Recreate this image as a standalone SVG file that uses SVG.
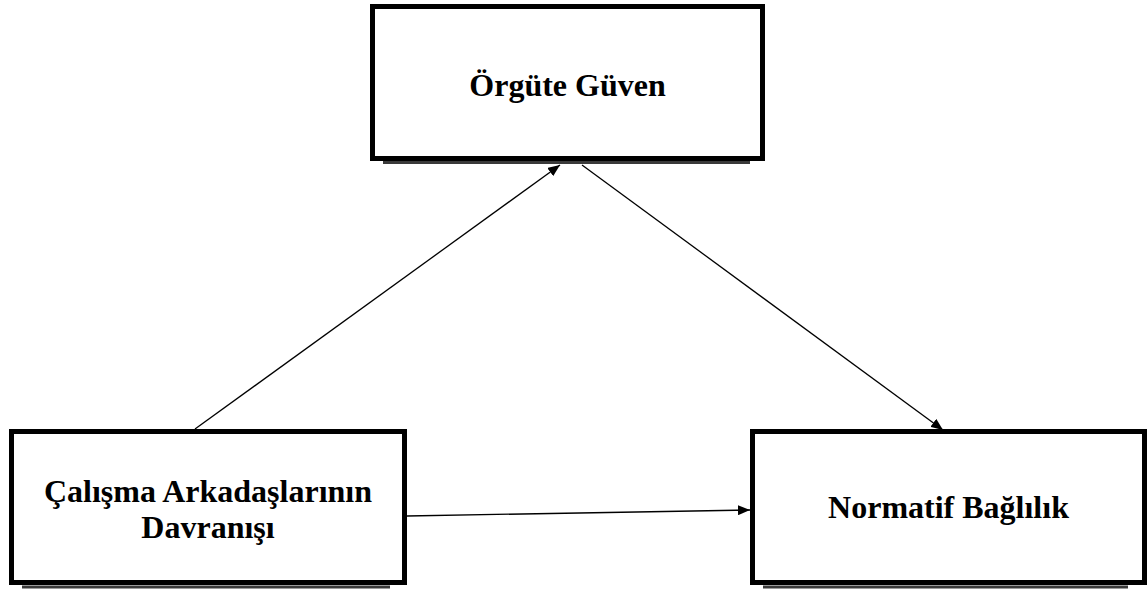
<svg xmlns="http://www.w3.org/2000/svg" width="1147" height="592" viewBox="0 0 1147 592">
  <style>
    .box { fill: #ffffff; stroke: #000000; stroke-width: 5; }
    .shadow { stroke: #3a3a3a; stroke-width: 3; fill: none; }
    .label { font-family: "Liberation Serif", "Times New Roman", serif; font-weight: bold; font-size: 32px; fill: #000000; text-anchor: middle; }
    .link { stroke: #000000; stroke-width: 1.3; fill: none; marker-end: url(#arrow); }
  </style>
  <defs>
    <marker id="arrow" viewBox="0 0 12 10" refX="12" refY="5" markerWidth="12" markerHeight="10" markerUnits="userSpaceOnUse" orient="auto">
      <path d="M0,0 L12,5 L0,10 Z" fill="#000000"/>
    </marker>
  </defs>
  <rect width="1147" height="592" fill="#ffffff"/>

  <!-- connectors -->
  <g id="connectors">
    <line class="link" x1="195" y1="429" x2="560" y2="165"/>
    <line class="link" x1="582" y1="165" x2="943" y2="430"/>
    <line class="link" x1="407" y1="516" x2="750" y2="510"/>
  </g>

  <!-- mediator -->
  <g id="orgute-guven">
    <line class="shadow" x1="383" y1="162.5" x2="750" y2="162.5"/>
    <rect class="box" x="372.5" y="6.5" width="390" height="152"/>
    <text class="label" x="567.5" y="96">Örgüte Güven</text>
  </g>

  <!-- predictor -->
  <g id="calisma-arkadaslari">
    <line class="shadow" x1="22" y1="587" x2="390" y2="587"/>
    <rect class="box" x="11.5" y="431.5" width="393" height="151"/>
    <text class="label" x="208" y="502">Çalışma Arkadaşlarının</text>
    <text class="label" x="208" y="538">Davranışı</text>
  </g>

  <!-- outcome -->
  <g id="normatif-baglilik">
    <line class="shadow" x1="763" y1="587" x2="1128" y2="587"/>
    <rect class="box" x="752.5" y="431.5" width="392" height="151"/>
    <text class="label" x="948.5" y="518">Normatif Bağlılık</text>
  </g>
</svg>
